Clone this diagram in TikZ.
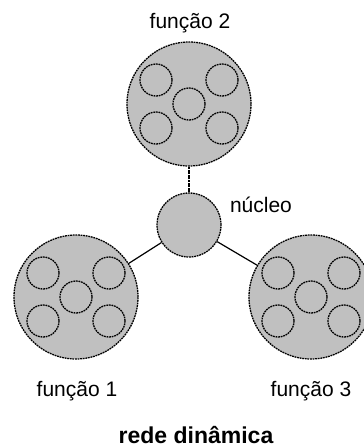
\documentclass[tikz,border=0pt]{standalone}
\usepackage{fontspec}
\setmainfont{Liberation Sans}
\usetikzlibrary{calc}
\definecolor{cellgray}{RGB}{192,192,192}

\tikzset{
    outline/.style={draw, line width=1.3pt, dash pattern=on 1.8pt off 0.8pt},
    organ/.style={circle, outline, fill=cellgray, minimum size=124pt, inner sep=0pt},
    nucleus/.style={circle, outline, fill=cellgray, minimum size=64pt, inner sep=0pt},
    cell/.style={circle, outline, minimum size=32pt, inner sep=0pt},
    link/.style={line width=1.2pt},
    label/.style={anchor=base, font=\fontsize{21}{25}\selectfont}
}

\begin{document}
\begin{tikzpicture}[x=1pt, y=-1pt]
\useasboundingbox (0,0) rectangle (364,448);
\node[organ] (f2) at (189,104) {};
\node[organ] (f1) at (76,297) {};
\node[organ] (f3) at (311,297) {};
\node[nucleus] (nuc) at (189,225) {};
\draw[link, dash pattern=on 2pt off 0.6pt] (nuc) -- (f2);
\draw[link] (nuc) -- (f1);
\draw[link] (nuc) -- (f3);
\foreach \f in {f1,f2,f3} {
    \foreach \dx/\dy in {0/0, -33/-24, 33/-24, -33/24, 33/24}
        \node[cell] at ($(\f)+(\dx,\dy)$) {};
}
\node[label] (l2) at (190,28) {função 2};
\node[label] (ln) at (261,212) {núcleo};
\node[label] (l1) at (77,396) {função 1};
\node[label] (l3) at (311,396) {função 3};
\node[label, font=\fontsize{23}{27}\selectfont\bfseries] (title) at (196,443) {rede dinâmica};
\end{tikzpicture}
\end{document}
